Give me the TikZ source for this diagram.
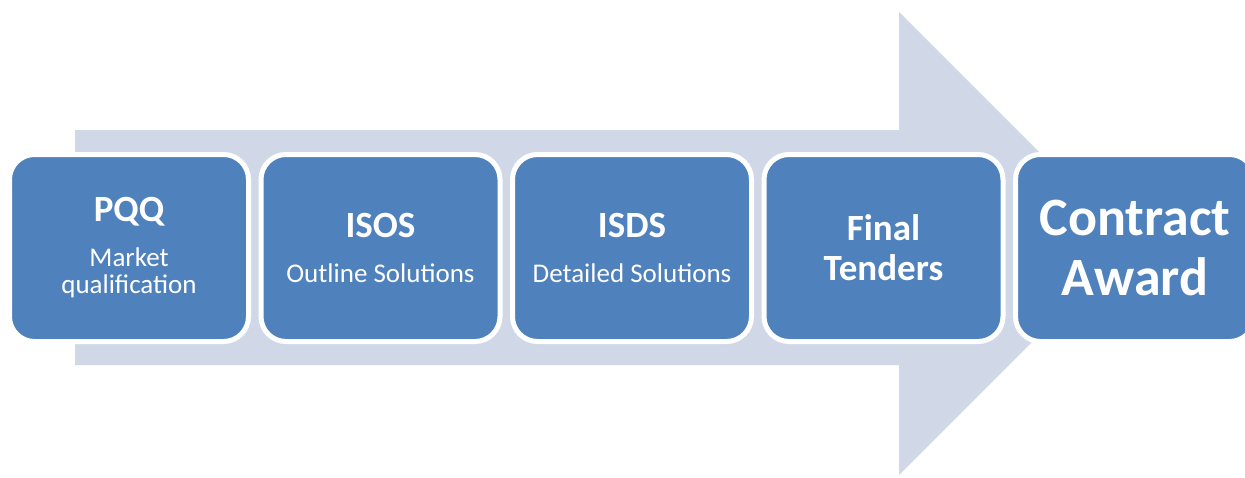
\documentclass[tikz,border=0pt]{standalone}
\usepackage{fontspec}
\setmainfont{Carlito}
\usepackage{tikz}

\definecolor{stageblue}{HTML}{4F81BD}
\definecolor{arrowfill}{HTML}{D0D8E8}

\newcommand{\fasenavn}[1]{{\fontsize{37}{37}\selectfont\bfseries #1}}

\tikzset{
  stage/.style={draw=white, line width=5pt, fill=stageblue, rounded corners=25pt,
    outer sep=0pt, minimum width=239pt, minimum height=187pt, text=white,
    align=center, font=\fontsize{27}{27}\selectfont},
  bigstage/.style={stage, font=\fontsize{37}{40}\selectfont\bfseries},
  laststage/.style={stage, font=\fontsize{54}{60}\selectfont\bfseries}
}

\begin{document}
\begin{tikzpicture}[x=1pt, y=-1pt]
           \path[use as bounding box, clip] (0, 0) rectangle (1245, 477);

           % Den store pilen
           \fill[arrowfill] (75, 130) -- (899, 130) -- (899, 12) -- (1130.5, 243.5)
             -- (899, 475) -- (899, 365) -- (75, 365) -- cycle;

           % Trinnene
           \node[stage] (pqq) at (129, 248) {\fasenavn{PQQ}\\[18pt]Market\\qualification};
           \node[stage] (isos) at (380.5, 248) {\fasenavn{ISOS}\\[18pt]Outline Solutions};
           \node[stage] (isds) at (632, 248) {\fasenavn{ISDS}\\[18pt]Detailed Solutions};
           \node[bigstage] (final) at (883.5, 248) {Final\\Tenders};
           \node[laststage] (award) at (1135, 248) {Contract\\Award};

         \end{tikzpicture}
\end{document}
